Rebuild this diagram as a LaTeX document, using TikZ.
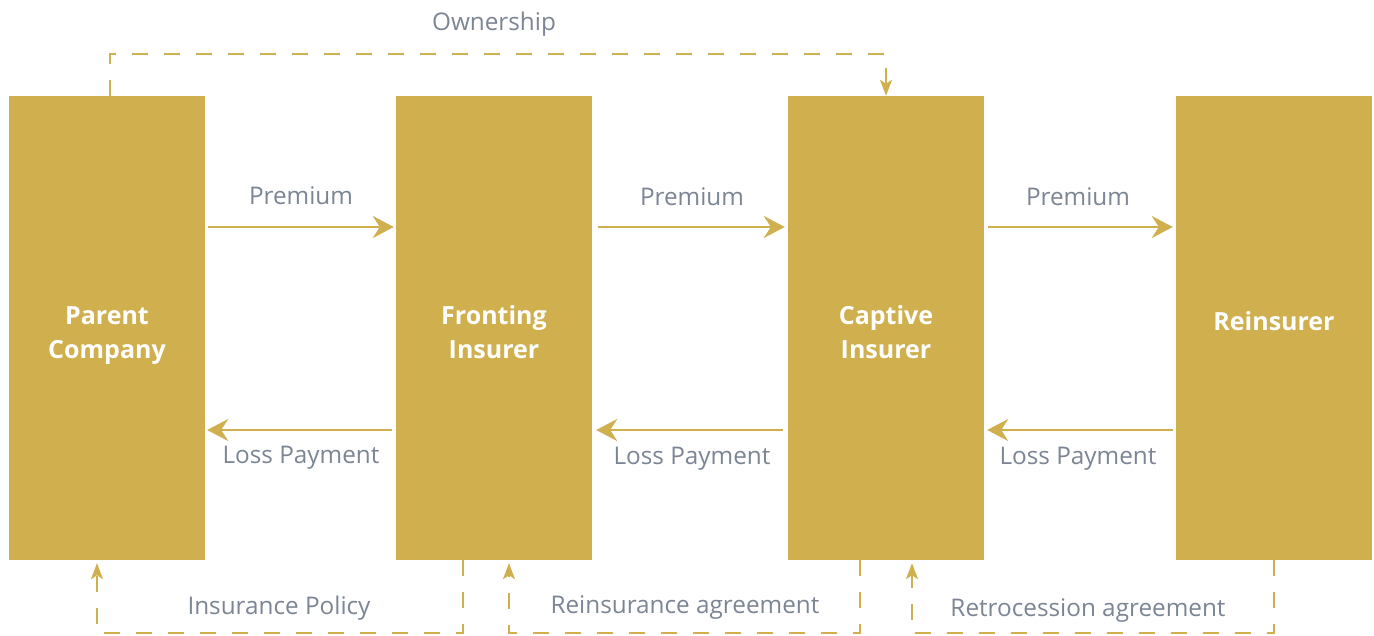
\documentclass[tikz,border=0pt]{standalone}
\usepackage{fontspec}
\setmainfont{Open Sans}
\usetikzlibrary{arrows.meta,calc}
\definecolor{gold}{HTML}{D0B04E}
\definecolor{labgray}{HTML}{7B8594}
\newcommand{\upstrut}[1]{\rule{0pt}{#1}}
\newcommand{\dnstrut}[1]{\rule[-#1]{0pt}{0pt}}
\begin{document}
\begin{tikzpicture}[x=1pt,y=-1pt,
  box/.style={fill=gold,draw=none,minimum width=196pt,minimum height=464pt,inner sep=0pt,
    text=white,font=\fontsize{25}{34}\selectfont\bfseries,align=center},
  lab/.style={text=labgray,font=\fontsize{24.3}{28}\selectfont,inner sep=0pt},
  arr/.style={draw=gold,line width=2.6pt,-{Stealth[length=21pt,width=22pt,inset=7pt]}},
  darr/.style={draw=gold,line width=2pt,dash pattern=on 16pt off 16pt,-{Stealth[length=16pt,width=12pt,inset=4pt]}}]
\useasboundingbox (0,0) rectangle (1374,635);
\node[box] (pc) at (107,328) {\upstrut{32pt}Parent\\Company};
\node[box] (fi) at (494,328) {\upstrut{32pt}Fronting\\Insurer\dnstrut{6pt}};
\node[box] (ci) at (886,328) {\upstrut{32pt}Captive\\Insurer\dnstrut{6pt}};
\node[box] (re) at (1274,328) {Reinsurer\dnstrut{15pt}};
\coordinate (prem) at (0,227);
\coordinate (loss) at (0,430);
% premium arrows
\draw[arr] ($(pc.east|-prem)+(3,0)$) -- ($(fi.west|-prem)+(-2,0)$);
\draw[arr] ($(fi.east|-prem)+(6,0)$) -- ($(ci.west|-prem)+(-3,0)$);
\draw[arr] ($(ci.east|-prem)+(4,0)$) -- ($(re.west|-prem)+(-3,0)$);
% loss arrows
\draw[arr] ($(fi.west|-loss)+(-4,0)$) -- ($(pc.east|-loss)+(2,0)$);
\draw[arr] ($(ci.west|-loss)+(-5,0)$) -- ($(fi.east|-loss)+(4,0)$);
\draw[arr] ($(re.west|-loss)+(-3,0)$) -- ($(ci.east|-loss)+(3,0)$);
\node[lab] (p1) at (301,196) {Premium};
\node[lab] (p2) at (692,197) {Premium};
\node[lab] (p3) at (1078,197) {Premium};
\node[lab] (l1) at (301,458) {Loss Payment};
\node[lab] (l2) at (692,459) {Loss Payment};
\node[lab] (l3) at (1078,459) {Loss Payment};
% ownership
\coordinate (own) at (0,54);
\draw[darr] ($(pc.north)+(3,0)$) -- ($(pc.north|-own)+(3,0)$) -| (ci.north);
\node[lab] (ow) at (494,24) {Ownership};
% bottom agreements
\coordinate (bot) at (0,633);
\draw[darr,shorten >=3pt] ($(fi.south)+(-31,0)$) -- ($(fi.south|-bot)+(-31,0)$) -| ($(pc.south)+(-10,0)$);
\draw[darr,shorten >=3pt] ($(ci.south)+(-26,0)$) -- ($(ci.south|-bot)+(-26,0)$) -| ($(fi.south)+(15,0)$);
\draw[darr,shorten >=3pt] (re.south) -- (re.south|-bot) -| ($(ci.south)+(26,0)$);
\node[lab] (b1) at (279,608) {Insurance Policy};
\node[lab] (b2) at (685,607) {Reinsurance agreement};
\node[lab] (b3) at (1088,610) {Retrocession agreement};
\end{tikzpicture}
\end{document}
